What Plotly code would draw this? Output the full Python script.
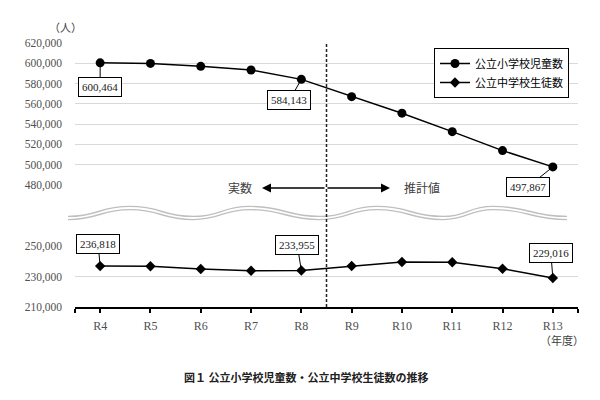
import plotly.graph_objects as go
from plotly.subplots import make_subplots

years = ['R4', 'R5', 'R6', 'R7', 'R8', 'R9', 'R10', 'R11', 'R12', 'R13']
elementary = [600464, 599900, 597000, 593400, 584143, 567100, 550800, 532600, 513900, 497867]
junior = [236818, 236700, 234900, 233800, 233955, 236900, 239500, 239300, 235100, 229016]

top_ticks = [480000, 500000, 520000, 540000, 560000, 580000, 600000, 620000]
bottom_ticks = [210000, 230000, 250000]

W, H = 600, 400
def px(x):
    return x / W
def py(y):
    return 1 - y / H

x_idx = list(range(len(years)))
serif = 'Liberation Serif'
jp = 'Noto Sans CJK JP'

fig = make_subplots(rows=2, cols=1)

fig.add_trace(go.Scatter(
    x=x_idx, y=elementary, name='公立小学校児童数', mode='lines+markers',
    line=dict(color='black', width=1.5),
    marker=dict(symbol='circle', size=9, color='black'),
    cliponaxis=False
), row=1, col=1)

fig.add_trace(go.Scatter(
    x=x_idx, y=junior, name='公立中学校生徒数', mode='lines+markers',
    line=dict(color='black', width=1.5),
    marker=dict(symbol='diamond', size=8, color='black'),
    cliponaxis=False
), row=2, col=1)

xdom = [px(75), px(578)]
fig.update_layout(
    template='none',
    width=W, height=H, margin=dict(l=0, r=0, t=0, b=0, pad=0),
    paper_bgcolor='white', plot_bgcolor='white',
    font=dict(family=serif, size=11, color='#404040'),
    showlegend=True,
    legend=dict(x=px(434), y=py(48), xanchor='left', yanchor='top',
                bordercolor='black', borderwidth=1, bgcolor='white',
                font=dict(family=jp, size=11, color='black'),
                itemwidth=30, tracegroupgap=0),
    xaxis=dict(domain=xdom, range=[-0.5, 9.5], showticklabels=False,
               showgrid=False, zeroline=False, showline=False, ticks='',
               anchor='y', automargin=False),
    xaxis2=dict(domain=xdom, range=[-0.5, 9.5], zeroline=False, showgrid=False,
                showline=True, linecolor='black', linewidth=2,
                tickmode='array', tickvals=[-0.5] + x_idx + [9.5],
                ticktext=[''] + years + [''],
                ticks='outside', ticklen=4, tickwidth=1.5, tickcolor='black',
                tickfont=dict(family=serif, size=12, color='#505050'),
                ticklabelstandoff=3, anchor='y2', automargin=False),
    yaxis=dict(domain=[py(185), py(43)], range=[480000, 620000],
               tickmode='array', tickvals=top_ticks,
               tickformat=',', gridcolor='#d9d9d9', gridwidth=1,
               tickfont=dict(family=serif, size=11.5, color='#505050'),
               zeroline=False, showline=False, ticks='',
               ticklabelstandoff=12, automargin=False),
    yaxis2=dict(domain=[py(307), py(246)], range=[210000, 250000],
                tickmode='array', tickvals=bottom_ticks,
                tickformat=',', gridcolor='#d9d9d9', gridwidth=1,
                tickfont=dict(family=serif, size=11.5, color='#505050'),
                zeroline=False, showline=False, ticks='',
                ticklabelstandoff=12, automargin=False),
)

# wavy break marks (double line)
nodes = [(68, 218), (130, 208), (193, 218), (250, 208), (320, 218),
         (377, 208), (443, 218), (493, 208), (567, 218)]
path = 'M %f,%f' % (px(nodes[0][0]), py(nodes[0][1]))
for (x0, y0), (x1, y1) in zip(nodes[:-1], nodes[1:]):
    d = (x1 - x0) / 2
    path += ' C %f,%f %f,%f %f,%f' % (px(x0 + d), py(y0), px(x1 - d), py(y1), px(x1), py(y1))
fig.add_shape(type='path', path=path, xref='paper', yref='paper',
              line=dict(color='#bfbfbf', width=4.5))
fig.add_shape(type='path', path=path, xref='paper', yref='paper',
              line=dict(color='white', width=1.8))

# boundary between actual and estimated
fig.add_shape(type='line', xref='x2', yref='paper', x0=4.5, x1=4.5,
              y0=py(307), y1=py(42),
              line=dict(color='#202020', width=1.5, dash='3px,2px'))

box = dict(font=dict(family=serif, size=11, color='#202020'),
           bordercolor='black', borderwidth=1, borderpad=3, bgcolor='white',
           showarrow=True, arrowhead=0, arrowwidth=1, arrowcolor='black')

labels = [
    ('x', 'y', 0, elementary[0], 0, 24),
    ('x', 'y', 4, elementary[4], -12, 21),
    ('x', 'y', 9, elementary[9], -25, 20),
    ('x2', 'y2', 0, junior[0], -2, -22),
    ('x2', 'y2', 4, junior[4], -4, -25),
    ('x2', 'y2', 9, junior[9], -2, -25),
]
for xr, yr, i, v, ax, ay in labels:
    fig.add_annotation(xref=xr, yref=yr, x=i, y=v, ax=ax, ay=ay,
                       text='{:,}'.format(v), **box)

# 実数 <-> 推計値
fig.add_annotation(xref='paper', yref='paper', x=px(262), y=py(188), ax=64, ay=0,
                   text='', showarrow=True, arrowhead=2, arrowsize=1.2,
                   arrowwidth=1.5, arrowcolor='black')
fig.add_annotation(xref='paper', yref='paper', x=px(390), y=py(188), ax=-64, ay=0,
                   text='', showarrow=True, arrowhead=2, arrowsize=1.2,
                   arrowwidth=1.5, arrowcolor='black')

centered = dict(xref='paper', yref='paper', showarrow=False,
                xanchor='center', yanchor='middle')
fig.add_annotation(x=px(240), y=py(187), text='実数',
                   font=dict(family=jp, size=12, color='#404040'), **centered)
fig.add_annotation(x=px(422), y=py(187), text='推計値',
                   font=dict(family=jp, size=12, color='#404040'), **centered)
fig.add_annotation(x=px(65), y=py(27), text='（人）',
                   font=dict(family=jp, size=11, color='#404040'), **centered)
fig.add_annotation(x=px(562), y=py(340), text='（年度）',
                   font=dict(family=jp, size=11, color='#404040'), **centered)
fig.add_annotation(x=px(306), y=py(377),
                   text='<b>図１ 公立小学校児童数・公立中学校生徒数の推移</b>',
                   font=dict(family=jp, size=11, color='#202020'), **centered)

fig.write_html('out.html', config={'displayModeBar': False},
               post_script="document.body.style.margin='0';document.body.style.overflow='hidden';")
